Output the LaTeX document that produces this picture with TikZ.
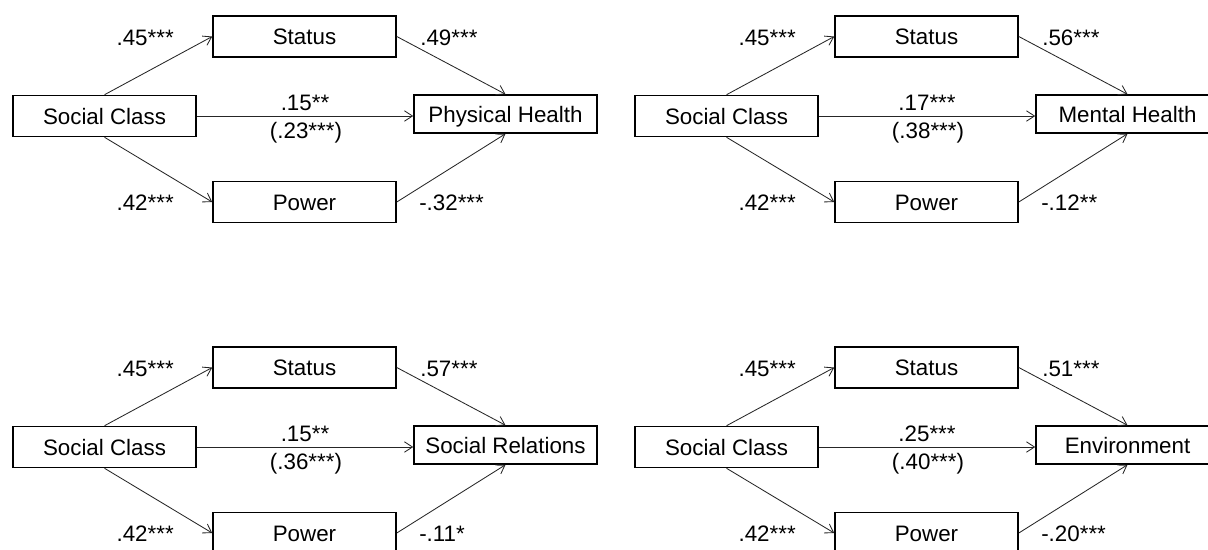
\documentclass[tikz,border=0pt]{standalone}
\usepackage{fontspec}
\setmainfont{Liberation Sans}
\usetikzlibrary{arrows.meta}
\tikzset{
  var/.style={draw, line width=1.1pt, minimum width=45.75mm, minimum height=10.25mm, inner sep=0pt, text height=11.4pt, text depth=0pt},
  outvar/.style={var, minimum height=9.5mm},
  link/.style={->, line width=0.6pt, draw=black!85},
  coef/.style={inner sep=0pt}
}
\begin{document}
\begin{tikzpicture}[x=0.25mm, y=-0.25mm, >={Straight Barb[length=2mm,width=2.6mm]}, font=\fontsize{15.9}{19}\selectfont]
  \useasboundingbox (0,0) rectangle (1208,549);
  \clip (0,0) rectangle (1208,549);
  \foreach \px/\py/\outc/\cc/\tot/\bs/\bp [count=\i] in {0/0/Physical Health/.15**/.23***/.49***/-.32***, 622/0/Mental Health/.17***/.38***/.56***/-.12**, 0/331/Social Relations/.15**/.36***/.57***/-.11*, 622/331/Environment/.25***/.40***/.51***/-.20***}{
    \begin{scope}[shift={(\px,\py)}]
      \node[var] (sc\i) at (104.5,116) {Social Class};
      \node[var] (st\i) at (304.5,36.5) {Status};
      \node[var] (pw\i) at (304.5,202) {Power};
      \node[outvar] (out\i) at (505.5,114) {\outc};
      % paths
      \draw[link] (sc\i.north) -- (st\i.west);
      \draw[link] (sc\i.south) -- (pw\i.west);
      \draw[link] (st\i.east) -- (out\i.north);
      \draw[link] (pw\i.east) -- (out\i.south);
      \draw[link] (sc\i.east) -- (sc\i.east -| out\i.west);
      % coefficients
      \node[coef, anchor=base east] (as\i) at (174,45) {.45***};
      \node[coef, anchor=base east] (ap\i) at (174,210) {.42***};
      \node[coef, anchor=base west] (bs\i) at (420,45) {\bs};
      \node[coef, anchor=base west] (bp\i) at (419,210) {\bp};
      \node[coef, anchor=base] (c\i) at (305,110) {\cc};
      \node[coef, anchor=base] (ct\i) at (306,138) {(\tot)};
    \end{scope}
  }
\end{tikzpicture}
\end{document}
